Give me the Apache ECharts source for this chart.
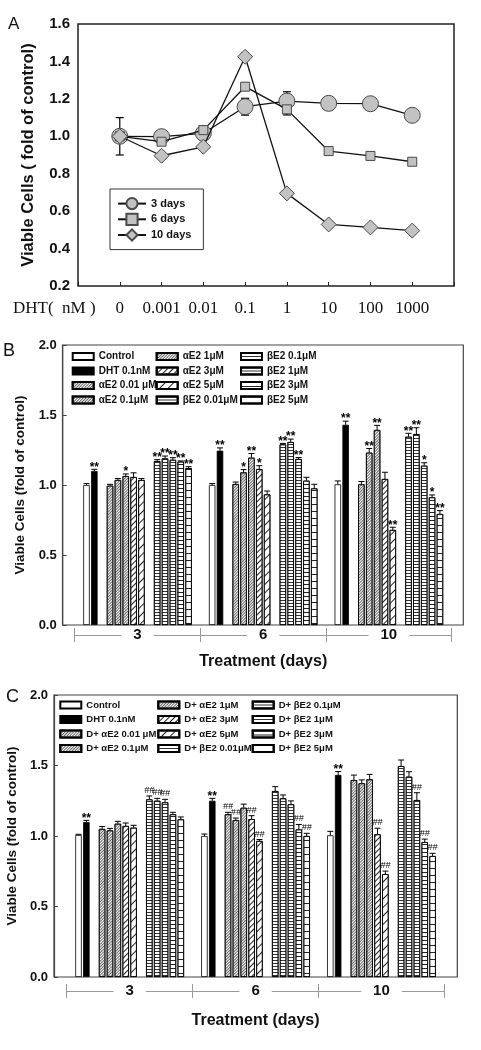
<!DOCTYPE html>
<html><head><meta charset="utf-8">
<script src="https://cdn.jsdelivr.net/npm/echarts@6/dist/echarts.min.js"></script>
<style>html,body{margin:0;padding:0;background:#fff}#c{width:481px;height:1050px}</style>
</head><body><div id="c"></div>
<script>
// ---------- Panel A data ----------
const dhtLabels = ['0','0.001','0.01','0.1','1','10','100','1000'];
const aNames = ['3 days','6 days','10 days'];
const a3    = [1.00,0.998,1.016,1.158,1.188,1.176,1.174,1.112];
const a3err = [0.10,0.01,0.01,0.045,0.05,0.035,0.01,0.025];
const a6    = [1.00,0.971,1.033,1.265,1.144,0.921,0.895,0.864];
const a6err = [0.03,0.01,0.01,0.02,0.03,0.02,0.02,0.01];
const a10    = [1.00,0.896,0.944,1.425,0.695,0.529,0.513,0.496];
const a10err = [0.02,0.01,0.01,0.02,0.01,0.01,0.01,0.01];

// ---------- Panels B/C data ----------
const days = ['3','6','10'];
const namesB = ['Control','DHT 0.1nM','αE2 0.01 μM','αE2 0.1μM','αE2 1μM','αE2 3μM','αE2 5μM','βE2 0.01μM','βE2 0.1μM','βE2 1μM','βE2 3μM','βE2 5μM'];
const namesC = ['Control','DHT 0.1nM','D+ αE2 0.01 μM','D+ αE2 0.1μM','D+ αE2 1μM','D+ αE2 3μM','D+ αE2 5μM','D+ βE2 0.01μM','D+ βE2 0.1μM','D+ βE2 1μM','D+ βE2 3μM','D+ βE2 5μM'];

const b3  = [1.00,1.10,0.995,1.036,1.064,1.057,1.036,1.171,1.19,1.18,1.167,1.121];
const b6  = [1.00,1.245,1.007,1.09,1.195,1.114,0.933,1.29,1.307,1.186,1.031,0.976];
const b10 = [1.005,1.43,1.005,1.231,1.393,1.043,0.679,1.345,1.364,1.138,0.912,0.793];
const bErr3  = [0.01,0.012,0.01,0.01,0.015,0.03,0.01,0.01,0.017,0.015,0.005,0.01];
const bErr6  = [0.01,0.02,0.014,0.02,0.03,0.024,0.024,0.007,0.021,0.01,0.024,0.029];
const bErr10 = [0.024,0.026,0.02,0.03,0.033,0.048,0.019,0.024,0.045,0.021,0.017,0.024];
const bSig3  = ['','**','','','*','','','**','**','**','**','**'];
const bSig6  = ['','**','','*','**','*','','**','**','**','',''];
const bSig10 = ['','**','','**','**','','**','**','**','*','*','**'];

const c3  = [1.007,1.099,1.05,1.04,1.087,1.071,1.059,1.26,1.25,1.239,1.154,1.118];
const c6  = [1.00,1.25,1.154,1.113,1.2,1.12,0.965,1.319,1.267,1.225,1.047,1.0];
const c10 = [1.005,1.433,1.397,1.374,1.402,1.012,0.73,1.496,1.421,1.255,0.957,0.858];
const cErr3  = [0.005,0.012,0.017,0.014,0.017,0.021,0.017,0.024,0.017,0.021,0.014,0.017];
const cErr6  = [0.014,0.017,0.014,0.014,0.026,0.024,0.01,0.031,0.024,0.024,0.035,0.019];
const cErr10 = [0.028,0.024,0.035,0.024,0.035,0.043,0.021,0.043,0.035,0.052,0.021,0.019];
const cSig3  = ['','**','','','','','','##','##','##','',''];
const cSig6  = ['','**','##','##','','##','##','','','','##','##'];
const cSig10 = ['','**','','','','##','##','','','##','##','##'];

// slot index of each treatment inside a day group (gaps between treatment families)
const slots = [0,1,3,4,5,6,7,9,10,11,12,13];

// ---------- styles ----------
const F = '"Liberation Sans", Arial, sans-serif';
const FS = '"Liberation Serif", "DejaVu Serif", serif';
const hatch = (gap, rot, col) => ({symbol:'rect', symbolSize:1, dashArrayX:[1,0], dashArrayY:[1,gap], rotation:rot, color:col || '#222'});
const fills = [
  {color:'#fff'},
  {color:'#000'},
  {color:'#fff', decal:hatch(1,-Math.PI/4,'#666')},
  {color:'#fff', decal:hatch(1,-Math.PI/4,'#666')},
  {color:'#fff', decal:hatch(1,-Math.PI/4,'#666')},
  {color:'#fff', decal:hatch(3,-Math.PI/4)},
  {color:'#fff', decal:hatch(5,-Math.PI/4)},
  {color:'#fff', decal:hatch(2,0,'#333')},
  {color:'#fff', decal:hatch(2,0,'#333')},
  {color:'#fff', decal:hatch(2,0,'#333')},
  {color:'#fff', decal:hatch(3,0)},
  {color:'#fff', decal:hatch(6,0)}
];

const xpos = (g, t) => g + 0.5 + (slots[t] - 6.5) / 16;

function errRender(sigs) {
  return function (params, api) {
    const x = api.value(0), v = api.value(1), e = api.value(2);
    const p0 = api.coord([x, v]), p1 = api.coord([x, v + e]);
    const hw = 3;
    const ch = [
      {type:'line', shape:{x1:p0[0], y1:p0[1], x2:p1[0], y2:p1[1]}, style:{stroke:'#000', lineWidth:1}},
      {type:'line', shape:{x1:p1[0]-hw, y1:p1[1], x2:p1[0]+hw, y2:p1[1]}, style:{stroke:'#000', lineWidth:1}}
    ];
    const s = sigs[params.dataIndex];
    if (s) {
      const star = s[0] === '*';
      ch.push({type:'text', x:p1[0], y:p1[1] + (star ? 4 : -1),
        style:{text:s, align:'center', verticalAlign:'bottom',
          font: star ? 'bold 12px ' + F : 'italic 9px ' + F, fill:'#000'}});
    }
    return {type:'group', children:ch};
  };
}

function barPanel(names, vals, errs, sigs, xi, yi) {
  const out = [];
  names.forEach((n, t) => {
    out.push({
      name:n, type:'bar', xAxisIndex:xi, yAxisIndex:yi, barWidth:6.5, barGap:'-100%',
      itemStyle:Object.assign({borderColor:'#000', borderWidth:0.8}, fills[t]),
      data:[0,1,2].map(g => [xpos(g, t), vals[g][t]])
    });
  });
  const edata = [], sflat = [];
  [0,1,2].forEach(g => names.forEach((n, t) => {
    edata.push([xpos(g, t), vals[g][t], errs[g][t]]);
    sflat.push(sigs[g][t]);
  }));
  out.push({type:'custom', xAxisIndex:xi, yAxisIndex:yi, z:5, renderItem:errRender(sflat),
    encode:{x:0, y:1}, data:edata, silent:true});
  return out;
}

function aErrRender(params, api) {
  const x = api.value(0), v = api.value(1), e = api.value(2);
  const lo = api.coord([x, v - e]), hi = api.coord([x, v + e]);
  const hw = 4, st = {stroke:'#000', lineWidth:1.2};
  return {type:'group', children:[
    {type:'line', shape:{x1:lo[0], y1:lo[1], x2:hi[0], y2:hi[1]}, style:st},
    {type:'line', shape:{x1:hi[0]-hw, y1:hi[1], x2:hi[0]+hw, y2:hi[1]}, style:st},
    {type:'line', shape:{x1:lo[0]-hw, y1:lo[1], x2:lo[0]+hw, y2:lo[1]}, style:st}
  ]};
}

const aSeries = [];
[[a3, a3err], [a6, a6err], [a10, a10err]].forEach(s => {
  aSeries.push({type:'custom', xAxisIndex:0, yAxisIndex:0, renderItem:aErrRender, encode:{x:0, y:1},
    data:s[0].map((v, i) => [i, v, s[1][i]]), z:1, silent:true});
});
[[a3, 'circle', 16], [a6, 'rect', 9], [a10, 'diamond', 15]].forEach((s, k) => {
  aSeries.push({name:aNames[k], type:'line', xAxisIndex:0, yAxisIndex:0, symbol:s[1], symbolSize:s[2],
    z:3 + k, lineStyle:{color:'#111', width:1.3},
    itemStyle:{color:'#c2c2c2', borderColor:'#4a4a4a', borderWidth:1},
    data:s[0].map((v, i) => [i, v])});
});

function frameY(gi, fs, gap) {
  return {gridIndex:gi, type:'value', min:0, max:2, interval:0.5,
    axisLine:{show:true, lineStyle:{color:'#444', width:1.2}},
    axisTick:{show:true, inside:true, length:4, lineStyle:{color:'#444'}},
    splitLine:{show:false},
    axisLabel:{fontFamily:F, fontWeight:'bold', fontSize:13, color:'#111', margin:6, formatter:v => v.toFixed(1)},
    name:'Viable Cells (fold of control)', nameLocation:'middle', nameGap:gap,
    nameTextStyle:{fontFamily:F, fontWeight:'bold', fontSize:fs, color:'#111'}};
}
const hiddenY = gi => ({gridIndex:gi, type:'value', min:0, max:2, show:false});
const hiddenX = (gi, mx) => ({gridIndex:gi, type:'value', min:0, max:mx, show:false});
function bracketAxis(gi, off, gap, withLabel) {
  return {gridIndex:gi, type:'category', data:days, position:'bottom', offset:off, boundaryGap:true,
    axisLine:{show:withLabel, lineStyle:{color:'#999', width:1}},
    axisTick:{show:true, inside:!withLabel, length:7, interval:0, lineStyle:{color:'#999', width:1}},
    axisLabel:{show:withLabel, margin:0, verticalAlign:'middle', fontFamily:F, fontWeight:'bold', fontSize:15,
      color:'#111', backgroundColor:'#fff', padding:[0, 12]},
    splitLine:{show:false},
    name: withLabel ? 'Treatment (days)' : '', nameLocation:'middle', nameGap:gap,
    nameTextStyle:{fontFamily:F, fontWeight:'bold', fontSize:16, color:'#111'}};
}
function colLegend(names, left, top, fs) {
  return {orient:'vertical', left:left, top:top, padding:0, itemGap:2.5, itemWidth:21, itemHeight:7,
    icon:'rect', data:names, selectedMode:false,
    textStyle:{fontFamily:F, fontWeight:'bold', fontSize:fs, color:'#111', lineHeight:12}};
}

const option = {
  animation:false,
  backgroundColor:'#fff',
  grid:[
    {left:78, top:24, width:376, height:262, show:true, borderColor:'#222', borderWidth:1.5, outerBoundsMode:'none'},
    {left:62.7, top:345, width:400.6, height:280, show:true, borderColor:'#444', borderWidth:1.2, outerBoundsMode:'none'},
    {left:74.7, top:345, width:377, height:280, outerBoundsMode:'none'},
    {left:54, top:695, width:403.3, height:282, show:true, borderColor:'#444', borderWidth:1.2, outerBoundsMode:'none'},
    {left:66.7, top:695, width:377.7, height:282, outerBoundsMode:'none'}
  ],
  xAxis:[
    {gridIndex:0, type:'value', min:-1, max:8, interval:1,
      axisLine:{show:false}, splitLine:{show:false},
      axisTick:{show:true, inside:true, length:4, lineStyle:{color:'#222'}},
      axisLabel:{fontFamily:FS, fontSize:17, color:'#111', margin:14,
        formatter:v => (v >= 0 && v < dhtLabels.length) ? dhtLabels[v] : ''}},
    hiddenX(1, 1),
    hiddenX(2, 3),
    bracketAxis(2, 10, 19, true),
    bracketAxis(2, 10, 19, false),
    hiddenX(3, 1),
    hiddenX(4, 3),
    bracketAxis(4, 14, 22, true),
    bracketAxis(4, 14, 22, false)
  ],
  yAxis:[
    {gridIndex:0, type:'value', min:0.2, max:1.6, interval:0.2,
      axisLine:{show:false}, axisTick:{show:false}, splitLine:{show:false},
      axisLabel:{fontFamily:F, fontWeight:'bold', fontSize:15, color:'#111', margin:8, formatter:v => v.toFixed(1)},
      name:'Viable Cells ( fold of control)', nameLocation:'middle', nameGap:41,
      nameTextStyle:{fontFamily:F, fontWeight:'bold', fontSize:16.5, color:'#111'}},
    frameY(1, 13.5, 30),
    hiddenY(2),
    frameY(3, 13.5, 30),
    hiddenY(4)
  ],
  legend:[
    {orient:'vertical', left:110, top:189, data:aNames, itemWidth:28, itemHeight:14, itemGap:2.5,
      padding:[8, 12, 8, 7], borderColor:'#333', borderWidth:1, backgroundColor:'#fff', selectedMode:false,
      textStyle:{fontFamily:F, fontWeight:'bold', fontSize:11, color:'#111'}},
    colLegend(namesB.slice(0, 4), 71.7, 350.5, 10),
    colLegend(namesB.slice(4, 8), 155.7, 350.5, 10),
    colLegend(namesB.slice(8, 12), 240, 350.5, 10),
    colLegend(namesC.slice(0, 4), 59.3, 699, 9.5),
    colLegend(namesC.slice(4, 8), 157.3, 699, 9.5),
    colLegend(namesC.slice(8, 12), 251.7, 699, 9.5)
  ],
  graphic:[
    {type:'text', left:8, top:16, style:{text:'A', font:'17px ' + F, fill:'#111'}},
    {type:'text', left:3, top:342, style:{text:'B', font:'18px ' + F, fill:'#111'}},
    {type:'text', left:6, top:688, style:{text:'C', font:'18px ' + F, fill:'#111'}},
    {type:'text', left:13, top:300, style:{text:'DHT(  nM )', font:'17px ' + FS, fill:'#111'}}
  ],
  series:[].concat(
    aSeries,
    barPanel(namesB, [b3, b6, b10], [bErr3, bErr6, bErr10], [bSig3, bSig6, bSig10], 2, 2),
    barPanel(namesC, [c3, c6, c10], [cErr3, cErr6, cErr10], [cSig3, cSig6, cSig10], 6, 4)
  )
};
const chart = echarts.init(document.getElementById('c'), null, {renderer:'canvas'});
chart.setOption(option);
</script></body></html>
